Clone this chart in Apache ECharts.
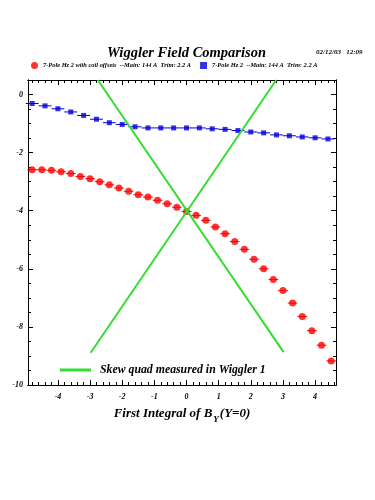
<!DOCTYPE html>
<html><head><meta charset="utf-8">
<script src="https://cdn.jsdelivr.net/npm/echarts@6/dist/echarts.min.js"></script>
<style>html,body{margin:0;padding:0;background:#fff}#c{width:375px;height:500px}</style>
</head><body><div id="c"></div>
<script>
// ---- data ----
const titleText = 'Wiggler Field Comparison';
const dateText = '02/12/03   12:09';
const redName = '7-Pole Hz 2 with coil offsets  --Main: 144 A  Trim: 2.2 A';
const blueName = '7-Pole Hz 2  --Main: 144 A  Trim: 2.2 A';
const greenName = 'Skew quad measured in Wiggler 1';

const redX = [-4.8,-4.5,-4.2,-3.9,-3.6,-3.3,-3.0,-2.7,-2.4,-2.1,-1.8,-1.5,-1.2,-0.9,-0.6,-0.3,0.0,0.3,0.6,0.9,1.2,1.5,1.8,2.1,2.4,2.7,3.0,3.3,3.6,3.9,4.2,4.5];
const redY = [-2.59,-2.59,-2.61,-2.66,-2.72,-2.82,-2.90,-3.00,-3.11,-3.22,-3.33,-3.45,-3.53,-3.64,-3.76,-3.88,-4.03,-4.16,-4.33,-4.56,-4.79,-5.06,-5.33,-5.67,-6.00,-6.37,-6.75,-7.18,-7.64,-8.13,-8.63,-9.17];

const blueX = [-4.8,-4.4,-4.0,-3.6,-3.2,-2.8,-2.4,-2.0,-1.6,-1.2,-0.8,-0.4,0.0,0.4,0.8,1.2,1.6,2.0,2.4,2.8,3.2,3.6,4.0,4.4];
const blueY = [-0.31,-0.39,-0.49,-0.60,-0.72,-0.85,-0.97,-1.03,-1.11,-1.15,-1.15,-1.15,-1.15,-1.15,-1.18,-1.20,-1.24,-1.29,-1.32,-1.39,-1.42,-1.46,-1.49,-1.53];

const skewA = [[-2.76, 0.5], [3.02, -8.87]];
const skewB = [[-2.98, -8.89], [2.79, 0.5]];

const xTickLabels = [-4,-3,-2,-1,0,1,2,3,4];
const yTickLabels = [-10,-8,-6,-4,-2,0];

// ---- axis extents / style ----
const xMin = -4.93, xMax = 4.65, yMin = -10, yMax = 0.5;
const xMinor = []; for (let v = -48; v <= 46; v += 2) xMinor.push(v / 10);
const yMinor = []; for (let v = -20; v <= 1; v += 1) yMinor.push(v / 2);

const serif = "'Liberation Serif', 'DejaVu Serif', serif";
const RED = '#ff0000', BLUE = '#0000dd', GREEN = '#33dd33';

function axis(kind, pos, ticks, len, labels) {
  const a = {
    type: 'value', position: pos,
    min: kind === 'x' ? xMin : yMin, max: kind === 'x' ? xMax : yMax,
    axisLine: { show: true, onZero: false, lineStyle: { color: '#000', width: 1 } },
    axisTick: { show: true, inside: true, length: len, customValues: ticks, lineStyle: { color: '#000', width: 1 } },
    axisLabel: { show: false },
    splitLine: { show: false }
  };
  if (labels) {
    a.axisLabel = {
      show: true, customValues: labels, margin: kind === 'x' ? 8 : 5,
      fontFamily: serif, fontStyle: 'italic', fontWeight: 'bold', fontSize: 8, color: '#000',
      formatter: v => String(v)
    };
  }
  return a;
}

function errBars(hw, color) {
  return function (params, api) {
    const x = api.value(0), y = api.value(1);
    const p1 = api.coord([x - hw, y]), p2 = api.coord([x + hw, y]);
    return { type: 'line', shape: { x1: p1[0], y1: p1[1], x2: p2[0], y2: p2[1] },
      style: { stroke: color, lineWidth: 1 } };
  };
}

const redData = redX.map((x, i) => [x, redY[i]]);
const blueData = blueX.map((x, i) => [x, blueY[i]]);

const xAxisBottom = axis('x', 'bottom', xTickLabels, 5, xTickLabels);
xAxisBottom.name = '{n|First Integral of B}{s|Y}{n|(Y=0)}';
xAxisBottom.nameLocation = 'middle';
xAxisBottom.nameGap = 22;
xAxisBottom.nameTextStyle = {
  rich: {
    n: { fontFamily: serif, fontStyle: 'italic', fontWeight: 'bold', fontSize: 13, color: '#000', padding: [0, 0, 5, 0] },
    s: { fontFamily: serif, fontStyle: 'italic', fontWeight: 'bold', fontSize: 9, color: '#000', padding: [8, 1, 0, 1] }
  }
};

const chart = echarts.init(document.getElementById('c'), null, { renderer: 'canvas' });
chart.setOption({
  animation: false,
  backgroundColor: '#fff',
  title: [{
    text: titleText, left: 102, top: 41,
    textStyle: { fontFamily: serif, fontStyle: 'italic', fontWeight: 'bold', fontSize: 14.5, color: '#000' }
  }, {
    text: dateText, left: 311, top: 44,
    textStyle: { fontFamily: serif, fontStyle: 'italic', fontWeight: 'bold', fontSize: 7, color: '#000' }
  }],
  legend: [{
    data: [{ name: redName, icon: 'circle' }, { name: blueName, icon: 'rect' }],
    left: 31, top: 62, padding: 0, itemWidth: 7, itemHeight: 7, itemGap: 9,
    selectedMode: false,
    textStyle: { fontFamily: serif, fontStyle: 'italic', fontWeight: 'bold', fontSize: 6.4, color: '#000' }
  }, {
    data: [{ name: greenName, icon: 'rect' }],
    left: 60, top: 364, padding: 0, itemWidth: 31, itemHeight: 3,
    selectedMode: false,
    textStyle: { fontFamily: serif, fontStyle: 'italic', fontWeight: 'bold', fontSize: 11.8, color: '#000', padding: [0, 0, 0, 4] }
  }],
  grid: { left: 28, top: 80, width: 308, height: 305, containLabel: false },
  xAxis: [
    xAxisBottom,
    axis('x', 'bottom', xMinor, 3, null),
    axis('x', 'top', xTickLabels, 5, null),
    axis('x', 'top', xMinor, 3, null)
  ],
  yAxis: [
    axis('y', 'left', yTickLabels, 5, yTickLabels),
    axis('y', 'left', yMinor, 3, null),
    axis('y', 'right', yTickLabels, 5, null),
    axis('y', 'right', yMinor, 3, null)
  ],
  series: [
    { type: 'custom', name: 'redErr', data: redData, renderItem: errBars(0.15, RED), z: 2, silent: true },
    { type: 'custom', name: 'blueErr', data: blueData, renderItem: errBars(0.2, BLUE), z: 2, silent: true },
    { type: 'scatter', name: redName, data: redData, symbol: 'circle', symbolSize: 7,
      itemStyle: { color: RED }, z: 3 },
    { type: 'scatter', name: blueName, data: blueData, symbol: 'rect', symbolSize: 5,
      itemStyle: { color: BLUE }, z: 3 },
    { type: 'line', name: greenName, data: skewA, symbol: 'none', color: GREEN,
      lineStyle: { color: GREEN, width: 2 }, z: 4, clip: true },
    { type: 'line', name: greenName, data: skewB, symbol: 'none', color: GREEN,
      lineStyle: { color: GREEN, width: 2 }, z: 4, clip: true }
  ]
});
</script>
</body></html>
